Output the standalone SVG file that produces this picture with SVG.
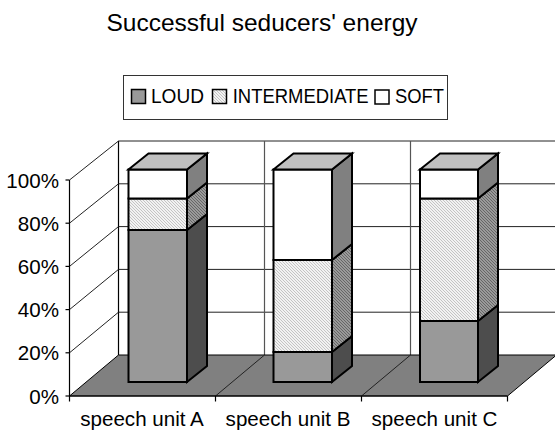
<svg xmlns="http://www.w3.org/2000/svg" width="555" height="437" viewBox="0 0 555 437">
<style>
text{font-family:"Liberation Sans",Arial,sans-serif;fill:#000}
.title{font-size:24.5px;text-anchor:middle}
.tick{font-size:20.6px;text-anchor:end}
.cat{font-size:20.6px;text-anchor:middle}
.leg{font-size:20.5px}
.grid{stroke:#222;stroke-width:1;fill:none}
.vdiv{stroke:#555;stroke-width:1.2;fill:none}
.axis{stroke:#000;stroke-width:1.2;fill:none}
.bar{stroke:#000;stroke-width:2;stroke-linejoin:miter}
.loud{fill:#999999}
.loudS{fill:#4d4d4d}
.soft{fill:#ffffff}
.softS{fill:#808080}
.top{fill:#c0c0c0}
.inter{fill:url(#hatchL)}
.interS{fill:url(#hatchD)}
</style>
<defs>
<pattern id="hatchL" width="3" height="3" patternUnits="userSpaceOnUse">
<rect width="3" height="3" fill="#f2f2f2"/>
<path d="M-1,-1 L4,4 M-1,2 L1,4 M2,-1 L4,1" stroke="#c4c4c4" stroke-width="1"/>
</pattern>
<pattern id="hatchD" width="3" height="3" patternUnits="userSpaceOnUse">
<rect width="3" height="3" fill="#9a9a9a"/>
<path d="M-1,-1 L4,4 M-1,2 L1,4 M2,-1 L4,1" stroke="#666" stroke-width="1"/>
</pattern>
</defs>

<text class="title" x="262" y="30.5">Successful seducers' energy</text>

<g id="legend">
<rect x="123.5" y="75.5" width="324" height="44" fill="#fff" stroke="#333" stroke-width="1"/>
<rect x="131.5" y="89.5" width="14" height="14" class="loud" stroke="#000" stroke-width="1.5"/>
<text class="leg" x="151" y="102.7" textLength="53" lengthAdjust="spacingAndGlyphs">LOUD</text>
<rect x="212.5" y="89.5" width="14" height="14" class="inter" stroke="#000" stroke-width="1.5"/>
<text class="leg" x="232.7" y="102.7" textLength="136" lengthAdjust="spacingAndGlyphs">INTERMEDIATE</text>
<rect x="375" y="90" width="14" height="14" fill="#fff" stroke="#000" stroke-width="1.5"/>
<text class="leg" x="395" y="102.7" textLength="49" lengthAdjust="spacingAndGlyphs">SOFT</text>
</g>

<g id="walls">
<!-- back wall gridlines -->
<line class="grid" x1="118.5" y1="141" x2="555" y2="141"/>
<line class="grid" x1="118.5" y1="183.8" x2="555" y2="183.8"/>
<line class="grid" x1="118.5" y1="226.6" x2="555" y2="226.6"/>
<line class="grid" x1="118.5" y1="269.4" x2="555" y2="269.4"/>
<line class="grid" x1="118.5" y1="312.2" x2="555" y2="312.2"/>
<line class="axis" x1="118.5" y1="141" x2="118.5" y2="355"/>
<line class="vdiv" x1="264.5" y1="141" x2="264.5" y2="355"/>
<line class="vdiv" x1="410.5" y1="141" x2="410.5" y2="355"/>
<!-- side wall diagonals -->
<line class="grid" x1="69.5" y1="180" x2="118.5" y2="141"/>
<line class="grid" x1="69.5" y1="223.2" x2="118.5" y2="183.8"/>
<line class="grid" x1="69.5" y1="266.4" x2="118.5" y2="226.6"/>
<line class="grid" x1="69.5" y1="309.6" x2="118.5" y2="269.4"/>
<line class="grid" x1="69.5" y1="352.8" x2="118.5" y2="312.2"/>
<!-- floor -->
<polygon points="69.5,396 507.5,396 556.5,355 118.5,355" fill="#808080" stroke="#000" stroke-width="1"/>
<line class="grid" x1="215.5" y1="396" x2="264.5" y2="355"/>
<line class="grid" x1="361.5" y1="396" x2="410.5" y2="355"/>
<!-- axes -->
<line class="axis" x1="69.5" y1="180" x2="69.5" y2="396"/>
<line class="axis" x1="69.5" y1="396" x2="507.5" y2="396"/>
<line class="axis" x1="65.5" y1="180" x2="69.5" y2="180"/>
<line class="axis" x1="65.5" y1="223.2" x2="69.5" y2="223.2"/>
<line class="axis" x1="65.5" y1="266.4" x2="69.5" y2="266.4"/>
<line class="axis" x1="65.5" y1="309.6" x2="69.5" y2="309.6"/>
<line class="axis" x1="65.5" y1="352.8" x2="69.5" y2="352.8"/>
<line class="axis" x1="65.5" y1="396" x2="69.5" y2="396"/>
<line class="axis" x1="69.5" y1="396" x2="69.5" y2="401.5"/>
<line class="axis" x1="215.5" y1="396" x2="215.5" y2="401.5"/>
<line class="axis" x1="361.5" y1="396" x2="361.5" y2="401.5"/>
<line class="axis" x1="507.5" y1="396" x2="507.5" y2="401.5"/>
</g>

<g id="axis-labels">
<text class="tick" x="59" y="187.5">100%</text>
<text class="tick" x="59" y="230.7">80%</text>
<text class="tick" x="59" y="273.9">60%</text>
<text class="tick" x="59" y="317.1">40%</text>
<text class="tick" x="59" y="360.3">20%</text>
<text class="tick" x="59" y="403.5">0%</text>
<text class="cat" x="142" y="426">speech unit A</text>
<text class="cat" x="288" y="426">speech unit B</text>
<text class="cat" x="434.5" y="426">speech unit C</text>
</g>

<g id="bar-A" class="bar">
<rect class="loud" x="128.5" y="230" width="58.5" height="152"/>
<rect class="inter" x="128.5" y="198.5" width="58.5" height="31.5"/>
<rect class="soft" x="128.5" y="169.5" width="58.5" height="29"/>
<polygon class="loudS" points="187,230 207,214 207,366 187,382"/>
<polygon class="interS" points="187,198.5 207,182.5 207,214 187,230"/>
<polygon class="softS" points="187,169.5 207,153.5 207,182.5 187,198.5"/>
<polygon class="top" points="128.5,169.5 148.5,153.5 207,153.5 187,169.5"/>
</g>

<g id="bar-B" class="bar">
<rect class="loud" x="273.5" y="352" width="58.5" height="30"/>
<rect class="inter" x="273.5" y="260" width="58.5" height="92"/>
<rect class="soft" x="273.5" y="169.5" width="58.5" height="90.5"/>
<polygon class="loudS" points="332,352 352,336 352,366 332,382"/>
<polygon class="interS" points="332,260 352,244 352,336 332,352"/>
<polygon class="softS" points="332,169.5 352,153.5 352,244 332,260"/>
<polygon class="top" points="273.5,169.5 293.5,153.5 352,153.5 332,169.5"/>
</g>

<g id="bar-C" class="bar">
<rect class="loud" x="420" y="321" width="58" height="61"/>
<rect class="inter" x="420" y="198.5" width="58" height="122.5"/>
<rect class="soft" x="420" y="169.5" width="58" height="29"/>
<polygon class="loudS" points="478,321 498,305 498,366 478,382"/>
<polygon class="interS" points="478,198.5 498,182.5 498,305 478,321"/>
<polygon class="softS" points="478,169.5 498,153.5 498,182.5 478,198.5"/>
<polygon class="top" points="420,169.5 440,153.5 498,153.5 478,169.5"/>
</g>
</svg>
